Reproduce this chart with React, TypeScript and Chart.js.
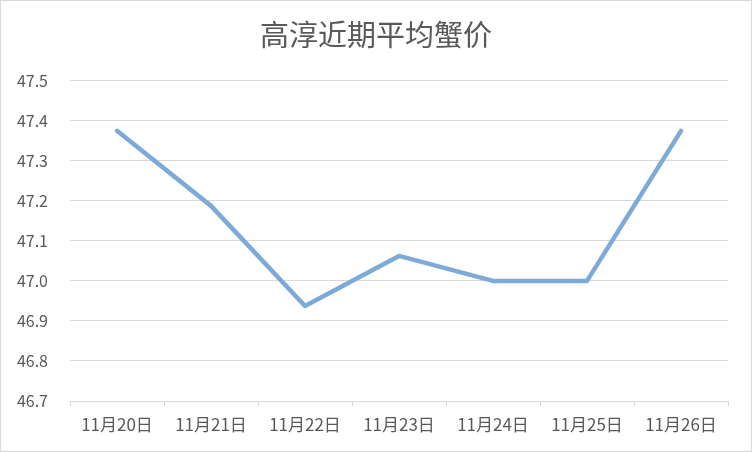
import React, { useEffect, useRef } from "react";
import { Chart, registerables } from "chart.js";

Chart.register(...registerables);

const titleText = "高淳近期平均蟹价";
const categories = ["11月20日", "11月21日", "11月22日", "11月23日", "11月24日", "11月25日", "11月26日"];
const prices = [47.375, 47.1875, 46.9375, 47.0625, 47.0, 47.0, 47.375];
const yMin = 46.7;
const yMax = 47.5;
const yStep = 0.1;

const FONT = "'Noto Sans CJK SC', 'Noto Sans', sans-serif";
const TEXT = "#595959";
const GRID = "#d9d9d9";

export default function App() {
  const ref = useRef<HTMLCanvasElement | null>(null);

  useEffect(() => {
    document.body.style.margin = "0";
    const canvas = ref.current;
    if (!canvas) return;
    const chart = new Chart(canvas, {
      type: "line",
      data: {
        labels: categories,
        datasets: [
          {
            data: prices,
            borderColor: "#7eaad7",
            borderWidth: 4.5,
            pointRadius: 0,
            tension: 0,
            fill: false,
            borderCapStyle: "round",
            borderJoinStyle: "round",
          },
        ],
      },
      options: {
        responsive: false,
        animation: false,
        layout: { padding: 0 },
        plugins: {
          legend: { display: false },
          tooltip: { enabled: false },
          title: {
            display: true,
            text: titleText,
            color: TEXT,
            font: { family: FONT, size: 29, weight: "normal", lineHeight: 1.2 },
            padding: { top: 17, bottom: 28 },
          },
        },
        scales: {
          x: {
            offset: true,
            afterFit: (scale: any) => {
              scale.height = 50;
            },
            grid: {
              offset: true,
              drawOnChartArea: false,
              drawTicks: true,
              tickLength: 5,
              color: GRID,
              lineWidth: 1,
            },
            border: { display: true, color: GRID, width: 1 },
            ticks: {
              color: TEXT,
              font: { family: FONT, size: 17 },
              padding: 8,
              maxRotation: 0,
              autoSkip: false,
            },
          },
          y: {
            min: yMin,
            max: yMax,
            afterFit: (scale: any) => {
              scale.width = 69;
            },
            grid: { color: GRID, lineWidth: 1, drawTicks: false },
            border: { display: false },
            ticks: {
              stepSize: yStep,
              color: TEXT,
              font: { family: FONT, size: 16 },
              padding: 22,
              callback: (v: any) => Number(v).toFixed(1),
            },
          },
          yRight: {
            position: "right",
            min: yMin,
            max: yMax,
            afterFit: (scale: any) => {
              scale.width = 23;
            },
            grid: { drawOnChartArea: false, drawTicks: false },
            border: { display: false },
            ticks: { display: false },
          },
        },
      },
    });
    return () => chart.destroy();
  }, []);

  return (
    <div
      style={{
        position: "absolute",
        left: 0,
        top: 0,
        width: 752,
        height: 452,
        boxSizing: "border-box",
        border: "1px solid #d9d9d9",
        background: "#fff",
      }}
    >
      <canvas ref={ref} width={750} height={450} style={{ display: "block" }} />
    </div>
  );
}
